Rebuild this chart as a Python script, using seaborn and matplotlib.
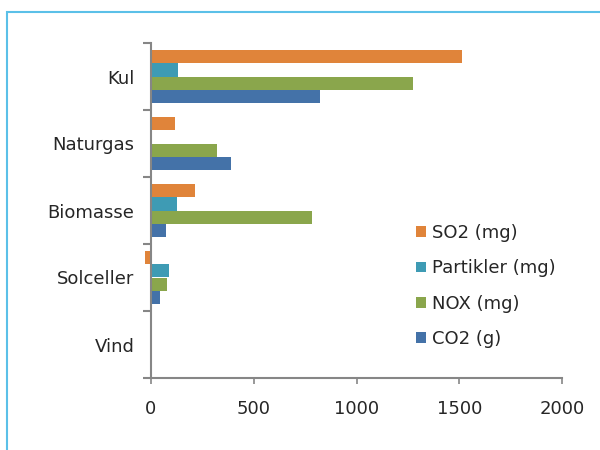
import matplotlib
matplotlib.use("Agg")
import matplotlib.pyplot as plt
from matplotlib.patches import Rectangle, Patch
import pandas as pd
import seaborn as sns

# data
kilder = ["Kul", "Naturgas", "Biomasse", "Solceller", "Vind"]
serier = ["SO2 (mg)", "Partikler (mg)", "NOX (mg)", "CO2 (g)"]
so2 = [1513, 117, 214, -30, 0]
partikler = [131, 5, 126, 89, 0]
nox = [1275, 321, 783, 80, 0]
co2 = [822, 389, 73, 42, 0]
farver = ["#E0843A", "#3E9BB4", "#8AA64C", "#4472A8"]

rows = []
for navn, vals in zip(serier, [so2, partikler, nox, co2]):
    for k, v in zip(kilder, vals):
        rows.append({"kilde": k, "serie": navn, "værdi": v})
df = pd.DataFrame(rows)

sns.set_style("white")
plt.rcParams["font.family"] = "sans-serif"
plt.rcParams["font.sans-serif"] = ["DejaVu Sans"]

fig = plt.figure(figsize=(6, 4.5), dpi=100)
ax = fig.add_axes([151 / 600, 1 - 378 / 450, 411 / 600, 335 / 450])

sns.barplot(data=df, y="kilde", x="værdi", hue="serie", order=kilder,
            hue_order=serier, palette=farver, orient="h", width=0.78,
            saturation=1, linewidth=0, ax=ax, legend=False)

# the small negative bar sticks out left of the axis
for p in ax.patches:
    p.set_clip_on(False)

ax.set_xlim(0, 2000)
ax.set_xticks([0, 500, 1000, 1500, 2000])
ax.set_ylim(len(kilder) - 0.5, -0.5)
ax.set_xlabel("")
ax.set_ylabel("")

# category ticks sit at group boundaries, labels at centres
ax.set_yticks([i - 0.5 for i in range(len(kilder) + 1)], minor=False)
ax.set_yticklabels([])
ax.set_yticks(range(len(kilder)), minor=True)
ax.set_yticklabels(kilder, minor=True)
ax.tick_params(axis="y", which="major", left=True, length=6, width=1.5, color="#868686")
ax.tick_params(axis="y", which="minor", left=False, length=0, pad=12, labelsize=13, labelcolor="#262626")
ax.tick_params(axis="x", bottom=True, length=4, width=1.2, color="#868686",
               labelsize=13, labelcolor="#262626", pad=11.5)

sns.despine(ax=ax)
for s in ["left", "bottom"]:
    ax.spines[s].set_color("#868686")
    ax.spines[s].set_linewidth(1.5)
    ax.spines[s].set_zorder(3)

handles = [Patch(facecolor=c, edgecolor="none") for c in farver]
ax.legend(handles, serier, frameon=False, loc="upper left",
          bbox_to_anchor=(400 / 600, 1 - 208 / 450), bbox_transform=fig.transFigure,
          fontsize=13, handlelength=0.55, handleheight=0.55, handletextpad=0.35,
          labelspacing=0.95, labelcolor="#262626")

# light blue frame around the chart area
fig.patches.append(Rectangle((7 / 600, -0.05), 1.1, 1 - 12 / 450 + 0.05,
                             transform=fig.transFigure, fill=False,
                             edgecolor="#5BC0E8", linewidth=1.5))

fig.savefig("out.png", dpi=100)
